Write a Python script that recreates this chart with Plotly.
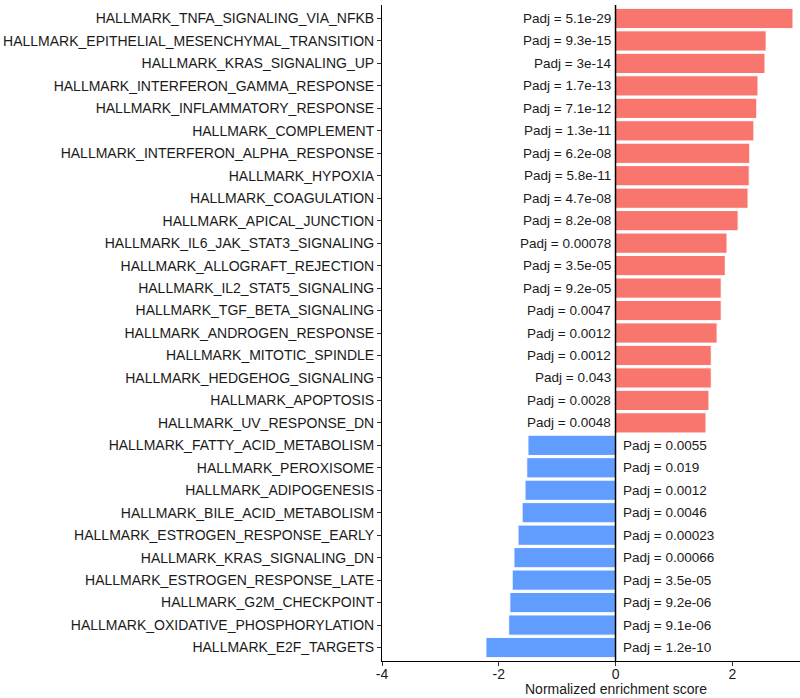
import plotly.graph_objects as go

pathways = [
    "HALLMARK_TNFA_SIGNALING_VIA_NFKB",
    "HALLMARK_EPITHELIAL_MESENCHYMAL_TRANSITION",
    "HALLMARK_KRAS_SIGNALING_UP",
    "HALLMARK_INTERFERON_GAMMA_RESPONSE",
    "HALLMARK_INFLAMMATORY_RESPONSE",
    "HALLMARK_COMPLEMENT",
    "HALLMARK_INTERFERON_ALPHA_RESPONSE",
    "HALLMARK_HYPOXIA",
    "HALLMARK_COAGULATION",
    "HALLMARK_APICAL_JUNCTION",
    "HALLMARK_IL6_JAK_STAT3_SIGNALING",
    "HALLMARK_ALLOGRAFT_REJECTION",
    "HALLMARK_IL2_STAT5_SIGNALING",
    "HALLMARK_TGF_BETA_SIGNALING",
    "HALLMARK_ANDROGEN_RESPONSE",
    "HALLMARK_MITOTIC_SPINDLE",
    "HALLMARK_HEDGEHOG_SIGNALING",
    "HALLMARK_APOPTOSIS",
    "HALLMARK_UV_RESPONSE_DN",
    "HALLMARK_FATTY_ACID_METABOLISM",
    "HALLMARK_PEROXISOME",
    "HALLMARK_ADIPOGENESIS",
    "HALLMARK_BILE_ACID_METABOLISM",
    "HALLMARK_ESTROGEN_RESPONSE_EARLY",
    "HALLMARK_KRAS_SIGNALING_DN",
    "HALLMARK_ESTROGEN_RESPONSE_LATE",
    "HALLMARK_G2M_CHECKPOINT",
    "HALLMARK_OXIDATIVE_PHOSPHORYLATION",
    "HALLMARK_E2F_TARGETS",
]

nes = [3.04, 2.58, 2.56, 2.44, 2.42, 2.37, 2.30, 2.29, 2.27, 2.10,
       1.91, 1.88, 1.81, 1.81, 1.74, 1.64, 1.64, 1.60, 1.55,
       -1.50, -1.52, -1.55, -1.60, -1.67, -1.74, -1.77, -1.81, -1.83, -2.22]

padj = ["5.1e-29", "9.3e-15", "3e-14", "1.7e-13", "7.1e-12", "1.3e-11",
        "6.2e-08", "5.8e-11", "4.7e-08", "8.2e-08", "0.00078", "3.5e-05",
        "9.2e-05", "0.0047", "0.0012", "0.0012", "0.043", "0.0028", "0.0048",
        "0.0055", "0.019", "0.0012", "0.0046", "0.00023", "0.00066",
        "3.5e-05", "9.2e-06", "9.1e-06", "1.2e-10"]

x_ticks = [-4, -2, 0, 2]
x_title = "Normalized enrichment score"

RED = "#F8766D"
BLUE = "#619CFF"
TXT = "#1a1a1a"
FONT = "Liberation Sans, Arial"

colors = [RED if v > 0 else BLUE for v in nes]

fig = go.Figure()
fig.add_trace(go.Bar(
    y=pathways, x=nes, orientation="h",
    marker=dict(color=colors, line=dict(color="white", width=1)),
    width=0.9, showlegend=False, hoverinfo="x+y",
))

for name, v, p in zip(pathways, nes, padj):
    pos = v > 0
    fig.add_annotation(
        x=0, y=name, xref="x", yref="y",
        text="Padj = " + p, showarrow=False,
        xanchor="right" if pos else "left",
        xshift=-3 if pos else 5,
        font=dict(family=FONT, size=13.5, color=TXT),
    )

# axis title (centred on the original, wider panel, i.e. at x = 0)
fig.add_annotation(
    x=0, y=0, xref="x", yref="paper", text=x_title, showarrow=False,
    xanchor="center", yanchor="top", yshift=-19, borderpad=0,
    font=dict(family=FONT, size=14, color=TXT),
)

fig.add_shape(type="line", xref="x", yref="paper", x0=0, x1=0, y0=0, y1=1,
              line=dict(color="black", width=1.5))

fig.update_layout(
    width=800, height=698,
    margin=dict(l=382, r=0, t=5, b=37),
    paper_bgcolor="white", plot_bgcolor="white",
    font=dict(family=FONT, color=TXT),
    bargap=0.1,
)
fig.update_yaxes(
    categoryorder="array", categoryarray=pathways[::-1],
    range=[-0.6, len(pathways) - 0.4],
    showline=True, linecolor="black", linewidth=1,
    ticks="outside", ticklen=4, tickcolor="#333",
    tickfont=dict(size=14, color=TXT),
    showgrid=False, zeroline=False,
)
fig.update_xaxes(
    range=[-4, 3.16], tickvals=x_ticks, ticktext=[str(t) for t in x_ticks],
    showline=True, linecolor="black", linewidth=1,
    ticks="outside", ticklen=4, tickcolor="#333",
    ticklabelstandoff=-4,
    tickfont=dict(size=14, color=TXT),
    showgrid=False, zeroline=False,
)

fig.write_html("out.html")
